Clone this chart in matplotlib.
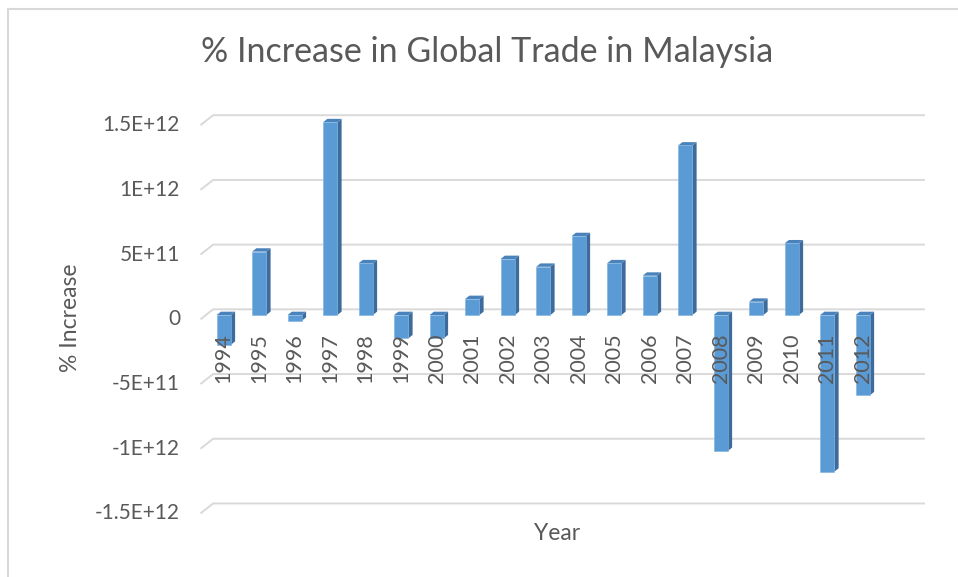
import matplotlib.pyplot as plt
from matplotlib.patches import Polygon
from matplotlib.lines import Line2D

# data
years = [str(y) for y in range(1994, 2013)]
increase = [-2.3e11, 4.9e11, -4.4e10, 1.49e12, 4.0e11, -1.8e11, -1.8e11, 1.24e11,
            4.33e11, 3.73e11, 6.1e11, 4.0e11, 3.04e11, 1.31e12, -1.05e12, 1.03e11,
            5.54e11, -1.21e12, -6.2e11]
tick_vals = [1.5e12, 1e12, 5e11, 0, -5e11, -1e12, -1.5e12]
tick_labels = ["1.5E+12", "1E+12", "5E+11", "0", "-5E+11", "-1E+12", "-1.5E+12"]

txt = "#595959"
grid_c = "#D9D9D9"
front_c = "#5B9BD5"
side_c = "#3D6C9C"
top_c = "#4A82BC"
plt.rcParams["font.family"] = ["Lato", "DejaVu Sans"]

fig = plt.figure(figsize=(9.58, 5.77), dpi=100)
ax = fig.add_axes([0.2039, 0.0615, 0.7671, 0.7626])
ax.set_xlim(-0.8, 19.9)
ax.set_ylim(-1.75e12, 1.65e12)
ax.axis("off")

# depth of the fake 3d look, in data units
dx = 0.12
dy = 2.6e10
back = 4.4e10    # back wall offset
front = -3.3e10  # front edge offset

# gridlines on the back wall with the slanted floor edge
for v, lab in zip(tick_vals, tick_labels):
    ax.plot([-0.655, -0.30, 19.75], [v + front, v + back, v + back],
            color=grid_c, lw=1.4, zorder=1, solid_capstyle="butt")
    ax.text(-1.23, v + front, lab, ha="right", va="center", fontsize=15,
            color=txt, clip_on=False)

w = 0.4
bars = ax.bar(range(len(years)), increase, width=w, color=front_c, zorder=3,
              edgecolor="#7FB2E0", linewidth=0.4)
for i, v in enumerate(increase):
    x0, x1 = i - w / 2, i + w / 2
    hi, lo = max(v, 0), min(v, 0)
    ax.add_patch(Polygon([(x1, lo), (x1 + dx, lo + dy), (x1 + dx, hi + dy), (x1, hi)],
                         closed=True, color=side_c, zorder=2.5, lw=0))
    ax.add_patch(Polygon([(x0, hi), (x0 + dx, hi + dy), (x1 + dx, hi + dy), (x1, hi)],
                         closed=True, color=top_c, zorder=2.5, lw=0))
    ax.text(i, -1.4e11, years[i], rotation=90, ha="center", va="top",
            fontsize=15.5, color=txt, zorder=4)

fig.text(0.509, 0.91, "% Increase in Global Trade in Malaysia", ha="center",
         va="center", fontsize=24.5, color=txt)
fig.text(0.581, 0.076, "Year", ha="center", va="center", fontsize=16.5, color=txt)
fig.text(0.074, 0.449, "% Increase", ha="center", va="center", rotation=90,
         fontsize=16.5, color=txt)

# chart frame (only left and top visible in the crop)
fig.add_artist(Line2D([8 / 958, 8 / 958], [0, 1 - 9 / 577], color=grid_c, lw=1.5))
fig.add_artist(Line2D([8 / 958, 1], [1 - 9 / 577, 1 - 9 / 577], color=grid_c, lw=1.5))

fig.savefig("out.png", dpi=100)
